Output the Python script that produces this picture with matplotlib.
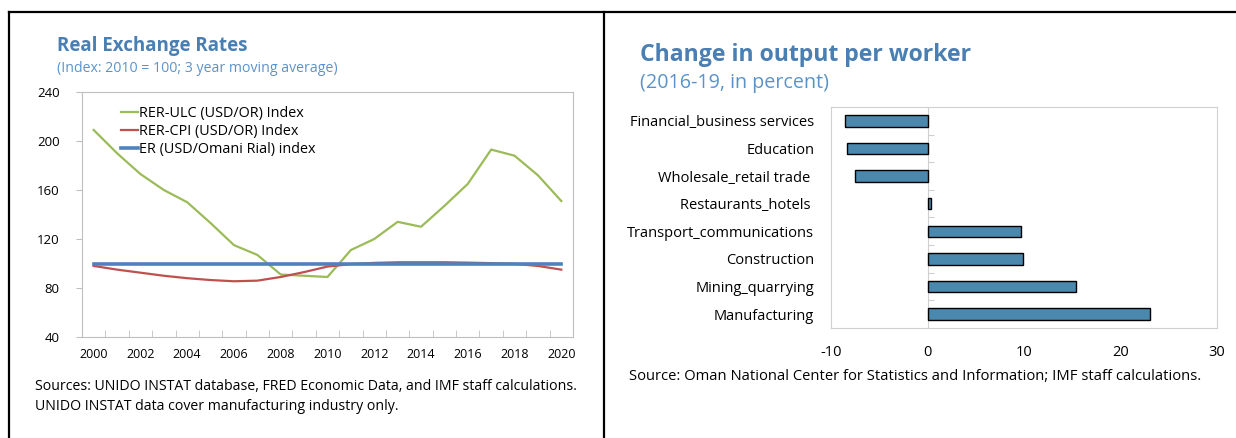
import numpy as np
import matplotlib.pyplot as plt
from matplotlib.lines import Line2D

plt.rcParams["font.family"] = ["Open Sans", "DejaVu Sans"]
plt.rcParams["axes.unicode_minus"] = False

# left chart data -------------------------------------
years = list(range(2000, 2021))
rer_ulc = [209, 190, 173, 160, 150, 133, 115, 107, 91, 90, 89, 111, 120, 134, 130, 147, 165, 193, 188, 172, 151]
rer_cpi = [98, 95, 92.5, 90, 88, 86.5, 85.5, 86, 89, 93, 97.5, 99.5, 100.5, 101, 101, 101, 100.7, 100.3, 99.7, 98, 95]
er_index = [100] * 21
series_labels = ["RER-ULC (USD/OR) Index", "RER-CPI (USD/OR) Index", "ER (USD/Omani Rial) index"]

# right chart data -------------------------------------
sectors = ["Financial_business services", "Education", "Wholesale_retail trade ", "Restaurants_hotels ",
           "Transport_communications", "Construction", "Mining_quarrying", "Manufacturing"]
output_change = [-8.5, -8.3, -7.5, 0.35, 9.7, 9.85, 15.4, 23.05]

TITLE = "#4a7fb3"
SUB = "#5b93c9"
GRID = "#bfbfbf"
W, H = 1236, 438

fig = plt.figure(figsize=(W / 100, H / 100), dpi=100)


def box(x0, y0, x1, y1):
    return [x0 / W, 1 - y1 / H, (x1 - x0) / W, (y1 - y0) / H]


# Real exchange rates -----------------------------
ax = fig.add_axes(box(82, 92, 573, 337))
ax.plot(years, rer_ulc, color="#9bbb59", lw=1.6, label=series_labels[0])
ax.plot(years, rer_cpi, color="#c0504d", lw=1.6, label=series_labels[1])
ax.plot(years, er_index, color="#4f81bd", lw=2.6, label=series_labels[2])
ax.set_xlim(1999.5, 2020.5)
ax.set_ylim(40, 240)
ax.set_yticks(range(40, 241, 40))
ax.set_xticks(years[::2])
ax.set_xticks(np.arange(2000.5, 2020.5, 1), minor=True)
ax.tick_params(axis="x", which="major", length=0, labelsize=9, pad=8)
ax.tick_params(axis="x", which="minor", direction="in", length=5, color=GRID)
ax.tick_params(axis="y", length=4, color=GRID, labelsize=9.5, pad=12)
for s in ax.spines.values():
    s.set_color(GRID)
leg = ax.legend(loc="upper left", bbox_to_anchor=(0.061, 0.98), frameon=False, fontsize=10.4,
                handlelength=1.2, handletextpad=0.05, labelspacing=0.22, borderaxespad=0.2)
fig.text(57 / W, 1 - 46 / H, "Real Exchange Rates", color=TITLE, fontsize=13.5, fontweight="bold", va="center")
fig.text(57 / W, 1 - 68 / H, "(Index: 2010 = 100; 3 year moving average)", color=SUB, fontsize=10.2, va="center")
fig.text(35 / W, 1 - 386 / H, "Sources: UNIDO INSTAT database, FRED Economic Data, and IMF staff calculations.",
         fontsize=10.15, va="center")
fig.text(35 / W, 1 - 406 / H, "UNIDO INSTAT data cover manufacturing industry only.", fontsize=10.15, va="center")

# Change in output per worker -----------------------------
ax2 = fig.add_axes(box(831, 107, 1217, 328))
pos = np.arange(len(sectors))
ax2.barh(pos, output_change, height=0.42, color="#4a88ae", edgecolor="black", linewidth=1.0, zorder=3)
ax2.set_ylim(len(sectors) - 0.5, -0.5)
ax2.set_xlim(-10, 30)
ax2.set_xticks([-10, 0, 10, 20, 30])
ax2.set_yticks(pos)
ax2.set_yticklabels(sectors)
ax2.tick_params(axis="y", length=0, labelsize=10.5, pad=12)
ax2.tick_params(axis="x", length=0, labelsize=10.5, pad=12)
for s in ax2.spines.values():
    s.set_color("#d0d0d0")
zero_axis = ax2.secondary_yaxis(0.25)
zero_axis.set_yticks(np.arange(0.5, len(sectors) - 0.5, 1))
zero_axis.set_yticklabels([])
zero_axis.tick_params(direction="in", length=4, color="#d0d0d0")
zero_axis.spines["left"].set_color("#d0d0d0")
fig.text(640 / W, 1 - 55 / H, "Change in output per worker", color=TITLE, fontsize=16.6, fontweight="bold", va="center")
fig.text(640 / W, 1 - 83 / H, "(2016-19, in percent)", color=SUB, fontsize=14.2, va="center")
fig.text(629 / W, 1 - 376 / H, "Source: Oman National Center for Statistics and Information; IMF staff calculations.",
         fontsize=10.65, va="center")

# panel borders
for xs, ys in [([9, W], [12, 12]), ([9, 9], [12, H]), ([604, 604], [12, H])]:
    fig.add_artist(Line2D([x / W for x in xs], [1 - y / H for y in ys], color="black", lw=1.6))

fig.savefig("out.png", dpi=100)
